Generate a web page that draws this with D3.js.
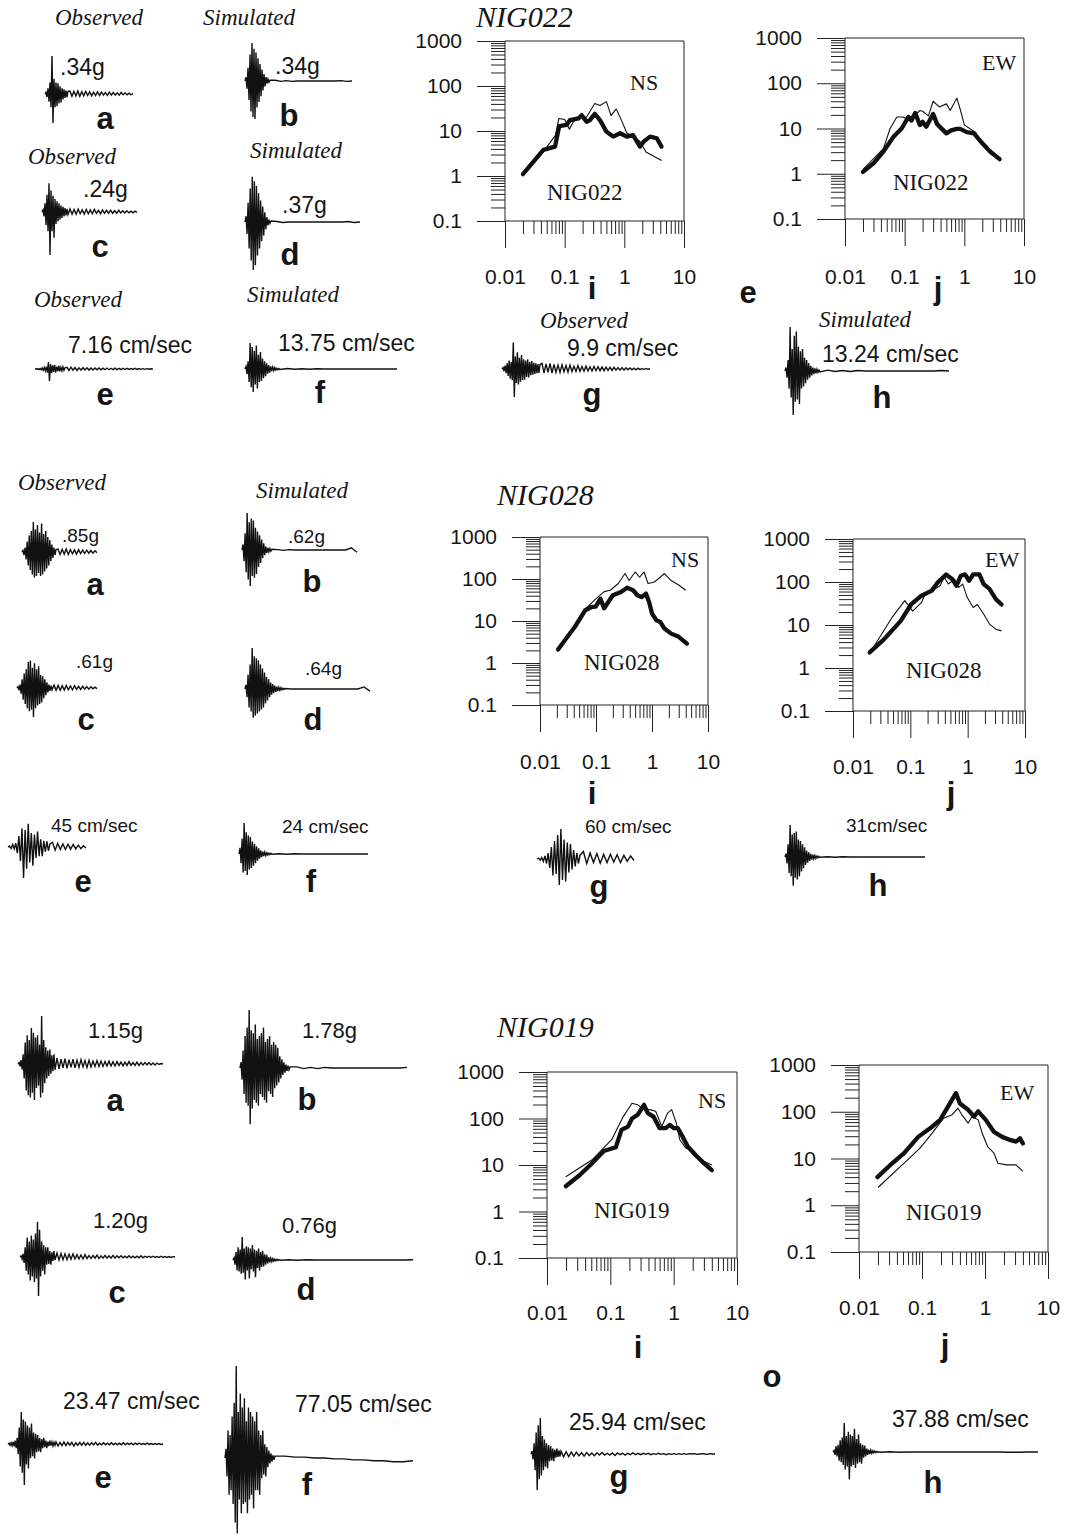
<!DOCTYPE html>
<html>
<head>
<meta charset="utf-8">
<script src="https://cdn.jsdelivr.net/npm/d3@7"></script>
<style>
  body { margin: 0; background: #fff; }
  text { fill: #151515; }
  .ital { font: italic 23px "Liberation Serif", "Times New Roman", serif; }
  .title { font: italic 30px "Liberation Serif", "Times New Roman", serif; }
  .amp { font: 23px "Liberation Sans", Arial, sans-serif; }
  .amp2 { font: 19px "Liberation Sans", Arial, sans-serif; }
  .amp3 { font: 22px "Liberation Sans", Arial, sans-serif; }
  .let { font: bold 31px "Liberation Sans", Arial, sans-serif; }
  .comp { font: 22px "Liberation Serif", "Times New Roman", serif; }
  .stn { font: 23px "Liberation Serif", "Times New Roman", serif; }
</style>
</head>
<body>
<svg id="fig" width="1072" height="1535"></svg>
<script>
// ---- spectra: [period, amplitude] ----
const nig022NsThick = [[0.02,1.1],[0.044,3.8],[0.069,4.5],[0.081,12.9],[0.108,13.6],[0.123,17.5],[0.17,19],[0.193,22.5],[0.233,16],[0.265,17.5],[0.32,24],[0.39,17.5],[0.5,9.7],[0.65,7.5],[0.85,8.9],[1.1,7.5],[1.4,8.1],[1.83,4.5],[2.1,5.8],[2.7,7.5],[3.5,6.9],[4.2,4.5]];
const nig022NsThin = [[0.02,1.2],[0.044,3.5],[0.07,8],[0.08,19],[0.1,18],[0.12,11],[0.14,16],[0.18,22],[0.23,20],[0.32,41],[0.39,37],[0.5,45],[0.6,22],[0.73,31],[0.9,17],[1.1,9],[1.4,7.5],[1.8,6],[2.3,3.4],[4.2,2.2]];
const nig022EwThick = [[0.02,1.1],[0.03,1.7],[0.044,3.1],[0.065,6.6],[0.089,10],[0.115,18],[0.13,15],[0.15,22],[0.18,11.9],[0.2,14],[0.23,11],[0.3,21],[0.35,12.5],[0.5,7.8],[0.6,9.1],[0.75,9.8],[0.85,9.8],[1.1,8.3],[1.45,7.8],[2,4.7],[2.7,3.1],[3.9,2.1]];
const nig022EwThin = [[0.02,1.25],[0.044,3.6],[0.057,10],[0.074,18],[0.094,18],[0.12,15],[0.18,25],[0.2,24],[0.25,19],[0.3,40],[0.38,30],[0.5,35],[0.58,25],[0.75,47],[0.85,27],[1.0,12],[1.3,9.5],[1.6,8]];
const nig028NsThick = [[0.021,2.1],[0.042,7.3],[0.064,18],[0.083,21.5],[0.099,22],[0.12,34],[0.14,20],[0.165,28],[0.2,41],[0.28,49],[0.36,62],[0.46,54],[0.55,41],[0.65,37],[0.78,45],[0.89,28],[1.0,15],[1.2,10.4],[1.4,9.5],[1.67,6.6],[2.2,5],[3.0,4.2],[4.2,2.9]];
const nig028NsThin = [[0.021,2.1],[0.042,7.3],[0.07,21.5],[0.1,34],[0.14,50],[0.18,54],[0.25,78],[0.33,135],[0.39,92],[0.5,147],[0.6,110],[0.72,147],[0.85,78],[1.1,85],[1.4,110],[1.67,135],[2.2,92],[3.0,72],[4.0,54]];
const nig028EwThick = [[0.0195,2.3],[0.035,4.7],[0.068,12.5],[0.103,30],[0.156,48],[0.237,63],[0.3,97],[0.42,150],[0.54,116],[0.64,82],[0.76,140],[0.9,150],[1.06,107],[1.25,150],[1.6,150],[1.9,89],[2.4,69],[3.1,40],[3.9,30]];
const nig028EwThin = [[0.0195,2.2],[0.048,15],[0.08,37],[0.11,21],[0.156,33],[0.18,52],[0.24,63],[0.33,82],[0.39,130],[0.46,90],[0.59,116],[0.7,75],[0.82,89],[0.98,44],[1.25,25.6],[1.47,30],[1.9,18],[2.4,10.5],[3.1,8],[3.9,7.3]];
const nig019NsThick = [[0.0198,3.5],[0.033,6.1],[0.051,10.8],[0.079,20],[0.122,24],[0.15,57],[0.19,67],[0.22,100],[0.27,120],[0.34,197],[0.39,130],[0.48,110],[0.6,62],[0.75,62],[0.87,73],[1.0,62],[1.16,62],[1.34,44],[1.67,25],[2.25,16],[3.0,11],[4.0,7.8]];
const nig019NsThin = [[0.0198,5.6],[0.051,12.8],[0.105,35],[0.16,110],[0.22,213],[0.27,197],[0.34,155],[0.42,155],[0.52,143],[0.65,67],[0.8,130],[0.93,155],[1.1,80],[1.25,35],[1.56,23],[1.95,21],[2.25,15],[3.0,12],[4.0,10]];
const nig019EwThick = [[0.0196,4],[0.0336,7.9],[0.052,13],[0.087,29],[0.145,48],[0.194,67],[0.26,130],[0.32,210],[0.345,250],[0.4,150],[0.54,110],[0.67,79],[0.78,102],[1.03,67],[1.39,37],[1.87,29],[2.5,25],[3.1,23],[3.6,27],[4.0,21]];
const nig019EwThin = [[0.02,2.4],[0.052,8],[0.093,16.6],[0.145,35],[0.22,73],[0.3,86],[0.37,120],[0.43,86],[0.54,57],[0.62,79],[0.78,67],[0.9,35],[1.1,18],[1.39,13],[1.6,7.9],[2.2,7.3],[3.1,7.3],[4.0,5.3]];

const xMajorTicks = [0.01, 0.1, 1, 10];
const xTickLabels = ["0.01", "0.1", "1", "10"];
const yMajorTicks = [0.1, 1, 10, 100, 1000];
const yTickLabels = ["0.1", "1", "10", "100", "1000"];

// ---- time histories: samples in % of the trace peak (burst part, then coda) ----
const a022Burst = [0,4,-8,15,-20,30,-35,100,-76,40,-35,30,-32,28,-25,20,-22,15,-14,12,-10,9,-8,7];
const a022Coda = [8,-6,7,-5,8,-6,6,-5,7,-4,6,-5,5,-4,6,-4,5,-3,4,-4,5,-3,4,-3,3,-3,4,-2,3,-2,2,-2,1];
const b022Burst = [0,10,-20,35,-50,70,-80,100,-95,85,-100,75,-70,60,-55,45,-40,30,-25,18,-14,10,-7,5,-3,2];
const b022Coda = [2,-1,1,-1,0,0,0,0,0,0,0,0,1,-1,0];
const c022Burst = [0,5,-10,20,-30,40,-45,67,-100,50,-45,38,-60,30,-28,25,-22,20,-18,15,-14,12,-10,9,-8,7,-6];
const c022Coda = [7,-5,6,-5,7,-4,5,-5,6,-4,5,-4,6,-3,4,-4,5,-3,4,-3,4,-3,3,-3,4,-2,3,-2,3,-2,2,-2,2,-1];
const d022Burst = [0,12,-25,40,-55,70,-80,94,-100,85,-90,75,-70,60,-55,45,-40,32,-28,20,-15,10,-7,5,-3,2];
const d022Coda = [1,-1,0,0,0,0,0,0,0,0,0,0,1,-1,0];
const e022Burst = [0,2,-3,3,-4,4,-6,8,-10,12,-15,20,-30,58,-100,40,-35,30,-25,35,-28,20,-18,25,-20,15,-14,18,-12,10];
const e022Coda = [14,-12,15,-10,12,-12,10,-9,11,-8,10,-9,9,-8,8,-7,9,-6,7,-6,8,-6,6,-5,7,-5,5,-5,6,-4,5,-4,4,-4,5,-3,4,-3,3,-3,3,-2,2,-1];
const f022Burst = [0,10,-20,30,-50,100,-70,85,-88,70,-60,90,-75,55,-50,65,-45,40,-35,30,-28,22,-18,15,-14,10,-8,7,-6,5,-4,3,-3,2,-2];
const f022Coda = [2,-1,1,-1,1,0,0,0,0,0,0,0,0,0,0,0];
const g022Burst = [0,5,-8,12,-15,20,-25,30,-35,25,-40,95,-100,45,-50,60,-55,40,-45,50,-40,35,-38,30,-28,35,-30,25,-22,28,-20,22,-18,20,-15,18,-14,16];
const g022Coda = [20,-15,18,-12,20,-15,16,-12,14,-12,15,-10,12,-11,14,-9,10,-9,12,-8,9,-8,10,-7,8,-7,9,-6,8,-6,7,-6,7,-5,6,-5,6,-4,5,-4,5,-4,4,-3,4,-3,3,-3,3,-2,2,-2,2,-1,1];
const h022Burst = [0,8,-15,25,-40,100,-60,50,-100,80,-70,90,-65,55,-75,45,-40,50,-35,30,-28,25,-20,18,-15,12,-10,8,-7,6,-5,4,-3,2,-2];
const h022Coda = [2,-1,1,-1,1,0,0,0,0,0,0,0,0,0,0,1,0];

const a028Burst = [0,5,-10,15,-25,35,-45,55,-60,70,-75,100,-85,75,-80,90,-70,65,-80,95,-75,60,-65,70,-55,50,-45,40,-30,25,-20,15,-10,8];
const a028Coda = [10,-8,9,-7,10,-8,8,-6,7,-7,8,-5,6,-5,6,-4,5,-4,4,-2];
const b028Burst = [0,15,-30,45,-60,100,-80,75,-97,85,-70,80,-75,60,-65,50,-45,40,-35,28,-22,18,-14,10,-8,6,-5,4,-3,2];
const b028Coda = [1,-1,1,0,0,0,0,0,0,0,0,0,0,6,-6];
const c028Burst = [0,5,-8,12,-20,30,-40,50,-55,65,-70,90,-80,95,-75,70,-100,85,-70,65,-60,75,-55,45,-50,40,-35,30,-25,20,-15,12,-10,8,-6];
const c028Coda = [10,-8,9,-8,8,-7,9,-6,7,-6,8,-5,6,-5,6,-4,5,-4,4,-3,3,-2];
const d028Burst = [0,10,-20,35,-45,60,-55,100,-70,80,-65,75,-60,70,-55,60,-50,50,-45,40,-35,30,-28,24,-20,16,-14,12,-10,8,-7,6,-5,4,-3,3,-2,2,-1,1];
const d028Coda = [0,0,0,0,0,0,0,0,0,0,0,0,5,-5];
const e028Burst = [0,3,-5,8,-6,12,-20,35,-45,60,-100,55,-70,75,-50,45,-60,40,-35,50,-30,25,-30,20,-15,18,-12,10];
const e028Coda = [15,-10,12,-8,10,-8,9,-7,8,-6,6,-5,4,-3];
const f028Burst = [0,20,-30,50,-60,100,-55,70,-68,60,-50,55,-45,40,-38,32,-30,25,-22,18,-15,12,-10,8,-7,6,-5,4,-3,3,-2,2,-1];
const f028Coda = [1,-1,1,0,0,0,0,0,0,0,0,0,0];
const g028Burst = [0,3,-4,5,-8,10,-15,20,-30,40,-55,60,-50,80,-87,100,-70,65,-75,55,-45,50,-35,30,-25,20,-15,12];
const g028Coda = [25,-15,20,-12,18,-14,15,-12,16,-10,14,-12,12,-8,10,-5];
const h028Burst = [0,10,-20,40,-50,100,-60,70,-90,75,-65,80,-70,55,-60,50,-45,40,-35,30,-25,20,-18,15,-12,10,-8,7,-6,5,-4,3,-3,2,-1];
const h028Coda = [1,-1,1,0,0,0,0,0,0,0,0,0,0,0];

const a019Burst = [0,3,-5,8,-12,20,-30,45,-55,60,-65,50,-70,75,-60,65,-75,55,-50,60,-45,40,-70,100,-60,50,-40,35,-30,28,-25,30,-20,18,-15,20,-12];
const a019Coda = [12,-10,10,-8,11,-9,9,-7,10,-8,8,-7,9,-6,7,-7,8,-6,6,-5,7,-5,6,-5,5,-4,6,-4,5,-4,5,-3,4,-4,4,-3,5,-3,3,-3,4,-3,3,-2,3,-2,3,-2,2,-2,2,-1,1,0];
const b019Burst = [0,10,-20,30,-45,55,-60,70,-65,100,-97,65,-70,60,-55,75,-60,50,-65,55,-45,60,-50,70,-55,45,-60,50,-40,55,-45,40,-50,45,-35,40,-30,35,-25,20,-18,15,-12,10,-8,6,-5,4,-3,2];
const b019Coda = [2,-1,1,-1,1,0,0,0,0,0,0,0,0,0,0,0,1];
const c019Burst = [0,3,-5,8,-15,25,-35,50,-45,40,-60,55,-50,45,-65,60,-55,90,-100,70,-50,40,-35,30,-45,25,-20,25,-18,15,-20,12,-10,15,-8];
const c019Coda = [10,-8,9,-7,8,-7,7,-6,8,-5,6,-5,5,-5,6,-4,4,-4,4,-3,5,-4,3,-3,4,-3,3,-3,4,-3,3,-2,3,-2,2,-2,3,-2,2,-2,2,-2,3,-2,2,-1,2,-1,2,-1,1,-1,2,-1,1,-1,1,-1,1,0];
const d019Burst = [0,10,-20,35,-45,55,-50,45,-60,100,-55,50,-85,60,-45,55,-80,50,-40,65,-50,45,-75,40,-35,50,-45,35,-30,40,-28,25,-20,22,-15,12,-10,8,-7,6,-5,4,-3,3,-2,2,-1];
const d019Coda = [1,-1,1,0,0,0,0,0,0,0,0,0,0,0,1];
const e019Burst = [0,2,-3,3,-4,5,-6,8,-10,15,-25,40,-55,78,-70,60,-100,55,-50,45,-60,40,-35,50,-30,28,-35,25,-20,22,-18,15,-20,12,-10,15,-8,8,-10,6,-5,8,-4,5,-5,4,-3,5];
const e019Coda = [-5,4,-4,5,-4,4,-3,4,-5,3,-3,4,-3,4,-3,3,-3,3,-2,4,-3,2,-2,3,-2,2,-2,3,-2,2,-2,2,-2,3,-2,2,-1,2,-2,2,-1,2,-1,1,-1,2,-1,1,-1,1,-1,1,-1,0];
const f019Burst = [0,10,-20,30,-40,25,-35,45,-50,60,-70,100,-82,50,-45,70,-60,55,-50,65,-48,40,-60,55,-45,50,-40,45,-55,40,-35,50,-35,30,-40,25,-22,30,-18,15,-20,12,-10,8,-6,5,-4,3,-2,2];
const f019Coda = [2,1,1,0,0,-1,-1,-2,-2,-3,-3,-4,-4,-3];
const g019Burst = [0,8,-15,30,-45,60,-100,80,-70,100,-60,50,-45,40,-35,30,-40,25,-20,22,-18,15,-20,12,-10,15,-8,10,-7,8];
const g019Coda = [-8,6,-7,5,-6,5,-5,4,-6,4,-4,3,-5,3,-3,4,-3,2,-3,3,-4,3,-2,2,-3,2,-2,3,-2,2,-2,2,-1,2,-2,1,-1,2,-1,1,-2,1,-1,1,-1,1,-1,1,-1,1,0,1,-1,0,1,0,-1,1,0,0];
const h019Burst = [0,5,-10,20,-15,25,-30,40,-35,50,-45,100,-60,55,-50,70,-95,60,-50,55,-45,80,-55,45,-40,60,-35,30,-40,25,-20,22,-15,12,-10,8,-7,6,-5,4,-3,3,-2,2,-1,1,-1];
const h019Coda = [1,-1,0,0,0,0,0,0,0,0,0,0,-1,-1,0,0];

const svg = d3.select("#fig");

// where each trace sits on the page (x0 start, xb end of burst, x1 end, base line, amp = px for 100%)
const traces = [
  [a022Burst, a022Coda, 45, 68, 133, 94, 38],
  [b022Burst, b022Coda, 245, 270, 352, 81, 38],
  [c022Burst, c022Coda, 42, 68, 137, 212, 43],
  [d022Burst, d022Coda, 245, 271, 360, 222, 48],
  [e022Burst, e022Coda, 35, 65, 153, 369, 12],
  [f022Burst, f022Coda, 245, 280, 397, 369, 26],
  [g022Burst, g022Coda, 502, 540, 650, 369, 28],
  [h022Burst, h022Coda, 785, 820, 949, 371, 44],
  [a028Burst, a028Coda, 22, 56, 97, 552, 30],
  [b028Burst, b028Coda, 242, 272, 357, 550, 37],
  [c028Burst, c028Coda, 17, 52, 97, 688, 29],
  [d028Burst, d028Coda, 245, 285, 370, 689, 41],
  [e028Burst, e028Coda, 8, 50, 86, 847, 31],
  [f028Burst, f028Coda, 239, 272, 368, 854, 31],
  [g028Burst, g028Coda, 537, 580, 634, 859, 30],
  [h028Burst, h028Coda, 785, 820, 925, 857, 32],
  [a019Burst, a019Coda, 18, 55, 163, 1064, 48],
  [b019Burst, b019Coda, 240, 290, 407, 1068, 58],
  [c019Burst, c019Coda, 20, 55, 175, 1257, 39],
  [d019Burst, d019Coda, 233, 280, 413, 1260, 23],
  [e019Burst, e019Coda, 8, 56, 163, 1444, 41],
  [f019Burst, f019Coda, 225, 275, 413, 1458, 92],
  [g019Burst, g019Coda, 531, 561, 715, 1454, 36],
  [h019Burst, h019Coda, 833, 880, 1038, 1452, 29]
];

traces.forEach(([burst, coda, x0, xb, x1, base, amp]) => {
  const vals = burst.concat(coda);
  // piecewise time axis: dense burst, stretched coda
  const x = d3.scaleLinear().domain([0, burst.length - 1, vals.length - 1]).range([x0, xb, x1]);
  const y = d3.scaleLinear().domain([-100, 100]).range([base + amp, base - amp]);
  svg.append("path")
    .datum(vals)
    .attr("fill", "none")
    .attr("stroke", "#111")
    .attr("stroke-width", 1.4)
    .attr("stroke-linejoin", "miter")
    .attr("d", d3.line().x((d, i) => x(i)).y(d => y(d)));
});

// spectral panels
const panels = [
  { left: 505, right: 684, top: 41, bottom: 221, labelBase: 284, thick: nig022NsThick, thin: nig022NsThin, comp: "NS", cx: 630, cy: 90, stn: "NIG022", sx: 547, sy: 200 },
  { left: 845, right: 1024, top: 38, bottom: 219, labelBase: 284, thick: nig022EwThick, thin: nig022EwThin, comp: "EW", cx: 982, cy: 70, stn: "NIG022", sx: 893, sy: 190 },
  { left: 540, right: 708, top: 537, bottom: 705, labelBase: 769, thick: nig028NsThick, thin: nig028NsThin, comp: "NS", cx: 671, cy: 567, stn: "NIG028", sx: 584, sy: 670 },
  { left: 853, right: 1025, top: 539, bottom: 711, labelBase: 774, thick: nig028EwThick, thin: nig028EwThin, comp: "EW", cx: 985, cy: 567, stn: "NIG028", sx: 906, sy: 678 },
  { left: 547, right: 737, top: 1072, bottom: 1258, labelBase: 1320, thick: nig019NsThick, thin: nig019NsThin, comp: "NS", cx: 698, cy: 1108, stn: "NIG019", sx: 594, sy: 1218 },
  { left: 859, right: 1048, top: 1065, bottom: 1252, labelBase: 1315, thick: nig019EwThick, thin: nig019EwThin, comp: "EW", cx: 1000, cy: 1100, stn: "NIG019", sx: 906, sy: 1220 }
];

const decades = [0.1, 1, 10, 100];
const yMinor = decades.flatMap(d => d3.range(2, 10).map(k => k * d));
const xMinor = [0.01, 0.1, 1].flatMap(d => d3.range(2, 10).map(k => k * d));

panels.forEach(p => {
  const x = d3.scaleLog().domain([0.01, 10]).range([p.left, p.right]);
  const y = d3.scaleLog().domain([0.1, 1000]).range([p.bottom, p.top]);
  const g = svg.append("g");

  const styleAxis = sel => {
    sel.select(".domain").remove();
    sel.selectAll("line").attr("stroke", "#222").attr("stroke-width", 1);
    sel.selectAll("text")
      .attr("font-family", "'Liberation Sans', Arial, sans-serif")
      .attr("font-size", 21)
      .attr("fill", "#151515");
  };

  // y axis, major and minor
  g.append("g").attr("transform", `translate(${p.left},0)`)
    .call(d3.axisLeft(y).tickValues(yMajorTicks).tickFormat((d, i) => yTickLabels[i]).tickSize(28).tickPadding(15))
    .call(styleAxis);
  g.append("g").attr("transform", `translate(${p.left},0)`)
    .call(d3.axisLeft(y).tickValues(yMinor).tickFormat("").tickSize(14))
    .call(styleAxis);

  // x axis hangs below the 0.1 line
  const pad = p.labelBase - p.bottom - 27 - 0.71 * 21;
  g.append("g").attr("transform", `translate(0,${p.bottom})`)
    .call(d3.axisBottom(x).tickValues(xMajorTicks).tickFormat((d, i) => xTickLabels[i]).tickSize(27).tickPadding(pad))
    .call(styleAxis);
  g.append("g").attr("transform", `translate(0,${p.bottom})`)
    .call(d3.axisBottom(x).tickValues(xMinor.filter(v => v > 0.01 && v < 10)).tickFormat("").tickSize(13))
    .call(styleAxis);

  // frame
  g.append("path")
    .attr("fill", "none").attr("stroke", "#222").attr("stroke-width", 1)
    .attr("d", `M${x(0.01)},${y(0.1)}V${y(1000)}H${x(10)}V${y(0.1)}H${x(0.01)}`);

  const line = d3.line().x(d => x(d[0])).y(d => y(d[1]));
  g.append("path").datum(p.thin)
    .attr("fill", "none").attr("stroke", "#111").attr("stroke-width", 1.1)
    .attr("stroke-linejoin", "round").attr("d", line);
  g.append("path").datum(p.thick)
    .attr("fill", "none").attr("stroke", "#111").attr("stroke-width", 4.3)
    .attr("stroke-linejoin", "round").attr("stroke-linecap", "round").attr("d", line);

  g.append("text").attr("class", "comp").attr("x", p.cx).attr("y", p.cy).text(p.comp);
  g.append("text").attr("class", "stn").attr("x", p.sx).attr("y", p.sy).text(p.stn);
});

// text labels: [text, x, y, class, anchor]
const labels = [
  ["Observed", 99, 25, "ital", "middle"],
  ["Simulated", 249, 25, "ital", "middle"],
  [".34g", 60, 75, "amp", "start"],
  ["a", 105, 129, "let", "middle"],
  [".34g", 275, 74, "amp", "start"],
  ["b", 289, 126, "let", "middle"],
  ["Observed", 72, 164, "ital", "middle"],
  ["Simulated", 296, 158, "ital", "middle"],
  [".24g", 83, 197, "amp", "start"],
  ["c", 100, 257, "let", "middle"],
  [".37g", 282, 213, "amp", "start"],
  ["d", 290, 265, "let", "middle"],
  ["Observed", 78, 307, "ital", "middle"],
  ["Simulated", 293, 302, "ital", "middle"],
  ["7.16 cm/sec", 68, 353, "amp", "start"],
  ["e", 105, 405, "let", "middle"],
  ["13.75 cm/sec", 278, 351, "amp", "start"],
  ["f", 320, 403, "let", "middle"],
  ["Observed", 584, 328, "ital", "middle"],
  ["Simulated", 865, 327, "ital", "middle"],
  ["9.9 cm/sec", 567, 356, "amp", "start"],
  ["g", 592, 405, "let", "middle"],
  ["13.24 cm/sec", 822, 362, "amp", "start"],
  ["h", 882, 408, "let", "middle"],
  ["NIG022", 476, 27, "title", "start"],
  ["i", 592, 299, "let", "middle"],
  ["j", 938, 299, "let", "middle"],
  ["e", 748, 303, "let", "middle"],

  ["Observed", 62, 490, "ital", "middle"],
  ["Simulated", 302, 498, "ital", "middle"],
  [".85g", 62, 542, "amp2", "start"],
  ["a", 95, 595, "let", "middle"],
  [".62g", 288, 543, "amp2", "start"],
  ["b", 312, 592, "let", "middle"],
  [".61g", 76, 668, "amp2", "start"],
  ["c", 86, 730, "let", "middle"],
  [".64g", 305, 675, "amp2", "start"],
  ["d", 313, 730, "let", "middle"],
  ["45 cm/sec", 51, 832, "amp2", "start"],
  ["e", 83, 892, "let", "middle"],
  ["24 cm/sec", 282, 833, "amp2", "start"],
  ["f", 311, 892, "let", "middle"],
  ["60 cm/sec", 585, 833, "amp2", "start"],
  ["g", 599, 897, "let", "middle"],
  ["31cm/sec", 846, 832, "amp2", "start"],
  ["h", 878, 896, "let", "middle"],
  ["NIG028", 497, 505, "title", "start"],
  ["i", 592, 804, "let", "middle"],
  ["j", 951, 804, "let", "middle"],

  ["1.15g", 88, 1038, "amp3", "start"],
  ["a", 115, 1111, "let", "middle"],
  ["1.78g", 302, 1038, "amp3", "start"],
  ["b", 307, 1110, "let", "middle"],
  ["1.20g", 93, 1228, "amp3", "start"],
  ["c", 117, 1303, "let", "middle"],
  ["0.76g", 282, 1233, "amp3", "start"],
  ["d", 306, 1300, "let", "middle"],
  ["23.47 cm/sec", 63, 1409, "amp", "start"],
  ["e", 103, 1488, "let", "middle"],
  ["77.05 cm/sec", 295, 1412, "amp", "start"],
  ["f", 307, 1495, "let", "middle"],
  ["25.94 cm/sec", 569, 1430, "amp", "start"],
  ["g", 619, 1487, "let", "middle"],
  ["37.88 cm/sec", 892, 1427, "amp", "start"],
  ["h", 933, 1493, "let", "middle"],
  ["NIG019", 497, 1037, "title", "start"],
  ["i", 638, 1358, "let", "middle"],
  ["j", 945, 1356, "let", "middle"],
  ["o", 772, 1387, "let", "middle"]
];

svg.selectAll("text.lbl")
  .data(labels)
  .enter()
  .append("text")
  .attr("class", d => "lbl " + d[3])
  .attr("x", d => d[1])
  .attr("y", d => d[2])
  .attr("text-anchor", d => d[4])
  .text(d => d[0]);
</script>
</body>
</html>
